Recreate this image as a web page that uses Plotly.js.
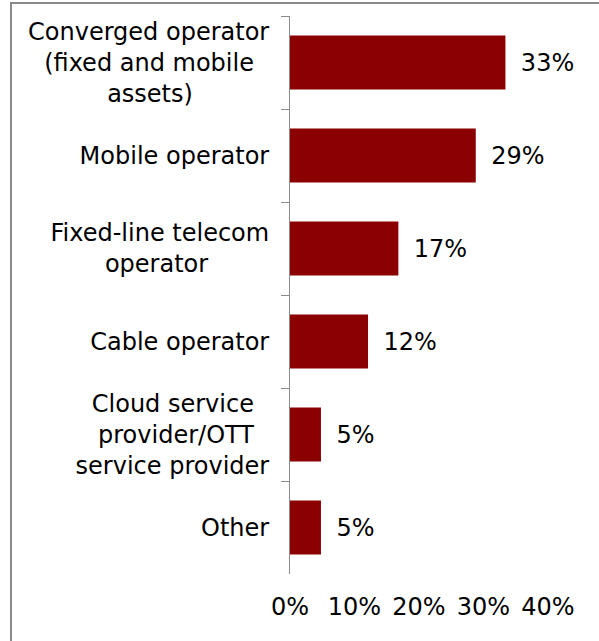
<!DOCTYPE html>
<html><head><meta charset="utf-8">
<script src="https://cdn.plot.ly/plotly-3.0.1.min.js"></script>
<style>html,body{margin:0;padding:0;background:#fff;overflow:hidden}#chart{width:599px;height:641px}</style>
</head><body><div id="chart"></div>
<script>
// ---- data ----
const categories = [
  "Converged operator<br>(fixed and mobile<br>assets)",
  "Mobile operator",
  "Fixed-line telecom<br>operator",
  "Cable operator",
  "Cloud service<br>provider/OTT<br>service provider",
  "Other"
];
const shares = [33.4, 28.8, 16.8, 12.1, 4.8, 4.8];
const xTickValues = [0, 10, 20, 30, 40];
const xTickLabels = ["0%", "10%", "20%", "30%", "40%"];

// ---- styling ----
const FONT = '"DejaVu Sans", Verdana, sans-serif';
const FS = 24;
const NBSP = '\u00A0';

// centre multi-line tick labels (Plotly right-aligns them) by padding with nbsp
const cvs = document.createElement('canvas').getContext('2d');
cvs.font = FS + 'px "DejaVu Sans"';
const nbW = cvs.measureText(NBSP).width || FS * 0.318;
function centred(label) {
  const lines = label.split('<br>');
  const widths = lines.map(l => cvs.measureText(l).width);
  const maxW = Math.max(...widths);
  return lines.map((l, i) => l + NBSP.repeat(Math.round((maxW - widths[i]) / 2 / nbW))).join('<br>');
}
const yLabels = categories.map(centred);

const trace = {
  type: 'bar',
  orientation: 'h',
  x: shares,
  y: yLabels,
  width: 0.58,
  marker: { color: '#8B0000' },
  texttemplate: NBSP + '\u2009%{x:.0f}%',
  textposition: 'outside',
  textfont: { family: FONT, size: FS, color: '#000' },
  cliponaxis: false,
  hoverinfo: 'skip'
};

const layout = {
  width: 599, height: 641,
  margin: { l: 290, r: 51, t: 16, b: 67, pad: 0 },
  paper_bgcolor: '#fff', plot_bgcolor: '#fff',
  showlegend: false,
  font: { family: FONT, size: FS, color: '#000' },
  xaxis: {
    range: [0, 40], tickmode: 'array', tickvals: xTickValues, ticktext: xTickLabels,
    showline: false, showgrid: false, zeroline: false, ticks: '',
    tickfont: { family: FONT, size: FS, color: '#000' }, ticklabelstandoff: 16
  },
  yaxis: {
    type: 'category', autorange: 'reversed',
    showline: true, linecolor: '#8c8c8c', linewidth: 1,
    ticks: 'outside', ticklen: 8, tickcolor: '#8c8c8c', tickwidth: 1,
    tickson: 'boundaries', showgrid: false, zeroline: false,
    tickfont: { family: FONT, size: FS, color: '#000' }, ticklabelstandoff: 15
  },
  shapes: [{
    type: 'rect', xref: 'paper', yref: 'paper',
    x0: (11 - 290) / 258, x1: 2, y0: -1, y1: (574 - 3) / 558,
    line: { color: '#8a8a8a', width: 2 }, fillcolor: 'rgba(0,0,0,0)'
  }]
};

Plotly.newPlot('chart', [trace], layout, { displayModeBar: false, staticPlot: true });
</script>
</body></html>
